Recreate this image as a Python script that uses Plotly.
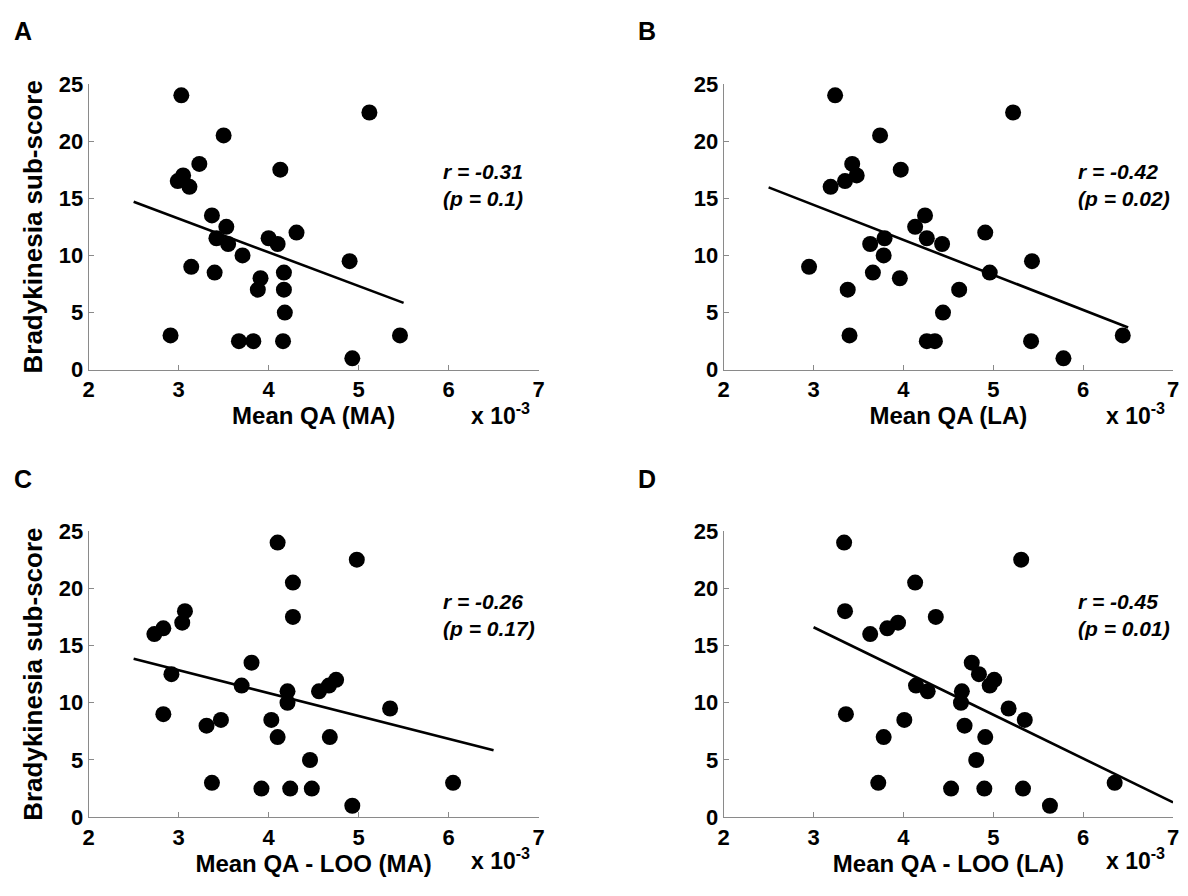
import plotly.graph_objects as go

# ---------------- data (x values in units of 10^-3) ----------------
A_x = [3.03, 5.12, 3.50, 3.23, 4.13, 3.05, 2.99, 3.12, 3.37, 3.53, 4.31, 3.42, 4.00, 4.10, 3.55,
       3.71, 3.14, 4.90, 3.40, 4.17, 3.91, 3.88, 4.17, 4.18, 2.91, 5.46, 3.67, 3.83, 4.16, 4.93]
A_y = [24, 22.5, 20.5, 18, 17.5, 17, 16.5, 16, 13.5, 12.5, 12, 11.5, 11.5, 11, 11,
       10, 9, 9.5, 8.5, 8.5, 8, 7, 7, 5, 3, 3, 2.5, 2.5, 2.5, 1]

B_x = [3.24, 5.22, 3.74, 3.43, 3.97, 3.48, 3.35, 3.19, 4.24, 4.13, 4.91, 4.26, 3.79, 3.63, 4.43,
       3.78, 2.95, 5.43, 3.66, 4.96, 3.96, 3.38, 4.62, 4.44, 3.40, 5.42, 4.26, 4.35, 6.44, 5.78]
B_y = [24, 22.5, 20.5, 18, 17.5, 17, 16.5, 16, 13.5, 12.5, 12, 11.5, 11.5, 11, 11,
       10, 9, 9.5, 8.5, 8.5, 8, 7, 7, 5, 3, 2.5, 2.5, 2.5, 3, 1]

C_x = [4.10, 4.98, 4.27, 3.07, 4.27, 3.04, 2.83, 2.73, 3.81, 2.92, 4.75, 4.67, 4.56, 3.70, 4.21,
       4.21, 2.83, 5.35, 3.47, 4.03, 3.31, 4.10, 4.68, 4.46, 3.37, 3.92, 4.24, 4.48, 4.93, 6.05]
C_y = [24, 22.5, 20.5, 18, 17.5, 17, 16.5, 16, 13.5, 12.5, 12, 11.5, 11, 11.5, 11,
       10, 9, 9.5, 8.5, 8.5, 8, 7, 7, 5, 3, 2.5, 2.5, 2.5, 1, 3]

D_x = [3.34, 5.31, 4.13, 3.35, 4.36, 3.94, 3.82, 3.63, 4.76, 4.84, 5.01, 4.96, 4.14, 4.27, 4.65,
       4.64, 3.36, 5.17, 4.01, 5.35, 4.68, 3.78, 4.91, 4.81, 3.72, 4.53, 4.90, 5.33, 5.63, 6.35]
D_y = [24, 22.5, 20.5, 18, 17.5, 17, 16.5, 16, 13.5, 12.5, 12, 11.5, 11.5, 11, 11,
       10, 9, 9.5, 8.5, 8.5, 8, 7, 7, 5, 3, 2.5, 2.5, 2.5, 1, 3]

# regression lines (endpoints)
fitA_x, fitA_y = [2.5, 5.5], [14.7, 5.85]
fitB_x, fitB_y = [2.5, 6.5], [15.95, 3.7]
fitC_x, fitC_y = [2.5, 6.5], [13.85, 5.85]
fitD_x, fitD_y = [3.0, 7.0], [16.6, 1.3]

panel_letters = ["A", "B", "C", "D"]
x_titles = ["Mean QA (MA)", "Mean QA (LA)", "Mean QA - LOO (MA)", "Mean QA - LOO (LA)"]
y_title = "Bradykinesia sub-score"
r_vals = ["-0.31", "-0.42", "-0.26", "-0.45"]
p_vals = ["0.1", "0.02", "0.17", "0.01"]
x_ticks = [2, 3, 4, 5, 6, 7]
y_ticks = [0, 5, 10, 15, 20, 25]

# ---------------- layout helpers ----------------
W, H = 1188, 896
FONT = "Liberation Sans, Arial, Helvetica, sans-serif"
AXC = "#8a8a8a"


def px(x):
    return x / W


def py(y):
    return 1 - y / H


# pixel boxes of the four plot areas (left, right, top, bottom)
boxes = [(83.5, 538, 74, 368), (725, 1179, 74, 368),
         (83.5, 538, 534, 828.3), (725, 1179, 534, 828.3)]

xs = [A_x, B_x, C_x, D_x]
ys = [A_y, B_y, C_y, D_y]
fits = [(fitA_x, fitA_y), (fitB_x, fitB_y), (fitC_x, fitC_y), (fitD_x, fitD_y)]

fig = go.Figure()
layout = dict(
    width=W, height=H,
    margin=dict(l=0, r=0, t=0, b=0),
    paper_bgcolor="white", plot_bgcolor="white",
    showlegend=False,
    font=dict(family=FONT, color="black"),
    annotations=[],
)

for i in range(4):
    xa = "x" if i == 0 else f"x{i+1}"
    ya = "y" if i == 0 else f"y{i+1}"
    fig.add_trace(go.Scatter(x=xs[i], y=ys[i], mode="markers", xaxis=xa, yaxis=ya,
                             marker=dict(size=16, color="black"), cliponaxis=False))
    fig.add_trace(go.Scatter(x=fits[i][0], y=fits[i][1], mode="lines", xaxis=xa, yaxis=ya,
                             line=dict(color="black", width=2.6), cliponaxis=False))
    l, r, t, b = boxes[i]
    xkey = "xaxis" if i == 0 else f"xaxis{i+1}"
    ykey = "yaxis" if i == 0 else f"yaxis{i+1}"
    layout[xkey] = dict(
        domain=[px(l), px(r)], range=[2, 7], anchor=ya, tickvals=x_ticks,
        showline=True, linecolor=AXC, linewidth=1, ticks="inside", ticklen=5,
        tickcolor=AXC, showgrid=False, zeroline=False, fixedrange=True,
        tickfont=dict(size=22, family=FONT, weight="bold", color="black"),
        title=dict(text=x_titles[i], standoff=2,
                   font=dict(size=24, family=FONT, weight="bold", color="black")),
    )
    layout[ykey] = dict(
        domain=[py(b), py(t)], range=[0, 25], anchor=xa, tickvals=y_ticks,
        showline=True, linecolor=AXC, linewidth=1, ticks="inside", ticklen=5,
        tickcolor=AXC, showgrid=False, zeroline=False, fixedrange=True,
        tickfont=dict(size=22, family=FONT, weight="bold", color="black"),
    )
    if i in (0, 2):
        layout[ykey]["title"] = dict(text=y_title, standoff=8,
                                     font=dict(size=26, family=FONT, weight="bold", color="black"))

    # r / p annotation
    stat_y = 16.2 if i < 2 else 17.7
    layout["annotations"].append(dict(
        xref=xa, yref=ya, x=5.92, y=stat_y, xanchor="left", yanchor="middle", align="left",
        showarrow=False,
        text=f"r = {r_vals[i]}<br>(p = {p_vals[i]})",
        font=dict(size=21, family=FONT, weight="bold", style="italic", color="black"),
    ))
    # x 10^-3 multiplier
    mult_y = 414 if i < 2 else 871
    layout["annotations"].append(dict(
        xref="paper", yref="paper", x=px(r - 70), y=py(mult_y), xanchor="left", yanchor="middle",
        showarrow=False, text="x 10<sup>-3</sup>",
        font=dict(size=23, family=FONT, weight="bold", color="black"),
    ))
    # panel letter
    lx = 17 if i in (0, 2) else 648
    ly = 20 if i < 2 else 480
    layout["annotations"].append(dict(
        xref="paper", yref="paper", x=px(lx), y=py(ly), xanchor="center", yanchor="middle",
        showarrow=False, text=panel_letters[i],
        font=dict(size=25, family=FONT, weight="bold", color="black"),
    ))

fig.update_layout(**layout)
fig.write_html("out.html")
